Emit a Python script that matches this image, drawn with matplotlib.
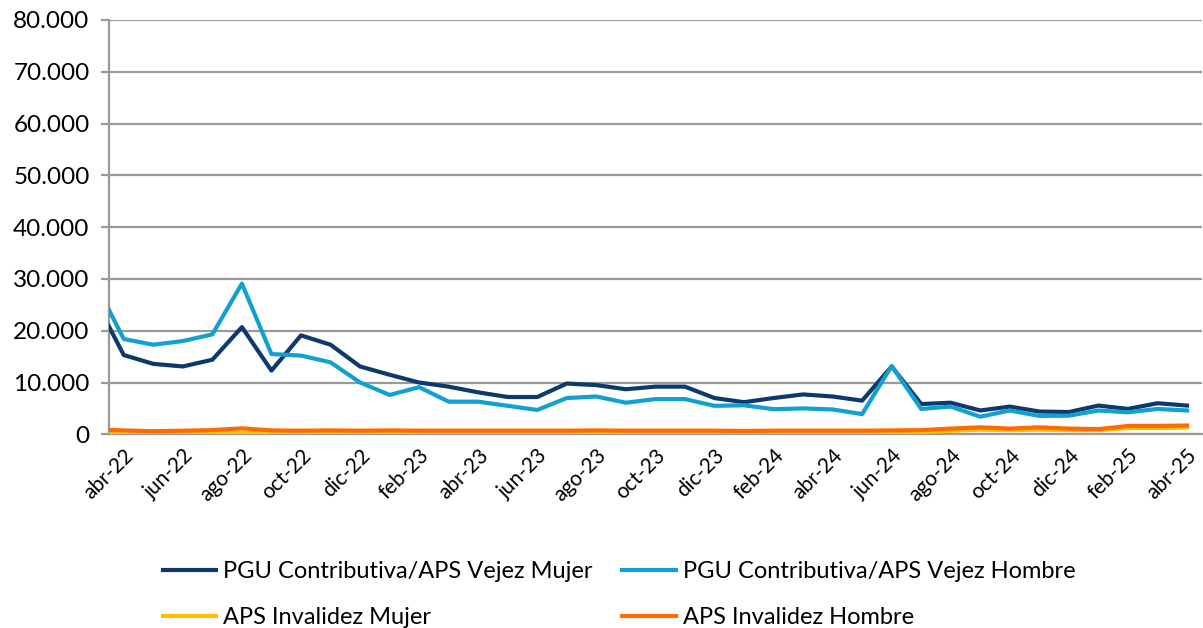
import numpy as np
import matplotlib.pyplot as plt
from matplotlib.ticker import FuncFormatter

# meses: mar-22 (fuera del eje, solo se ve el tramo recortado) hasta abr-25
months = ["mar-22", "abr-22", "may-22", "jun-22", "jul-22", "ago-22", "sep-22", "oct-22",
          "nov-22", "dic-22", "ene-23", "feb-23", "mar-23", "abr-23", "may-23", "jun-23",
          "jul-23", "ago-23", "sep-23", "oct-23", "nov-23", "dic-23", "ene-24", "feb-24",
          "mar-24", "abr-24", "may-24", "jun-24", "jul-24", "ago-24", "sep-24", "oct-24",
          "nov-24", "dic-24", "ene-25", "feb-25", "mar-25", "abr-25"]

vejez_mujer = [26300, 15300, 13600, 13100, 14400, 20700, 12300, 19100, 17300, 13100,
               11500, 10000, 9200, 8100, 7200, 7200, 9800, 9500, 8700, 9200, 9200,
               7000, 6200, 7000, 7700, 7300, 6500, 13100, 5850, 6100, 4600, 5350,
               4400, 4300, 5550, 4900, 6000, 5550]
vejez_hombre = [29600, 18400, 17300, 18000, 19300, 29100, 15500, 15200, 13900, 10000,
                7600, 9100, 6300, 6300, 5500, 4700, 7000, 7300, 6100, 6800, 6800,
                5500, 5600, 4850, 5000, 4800, 3900, 13200, 4900, 5350, 3400, 4600,
                3550, 3600, 4600, 4250, 4900, 4600]
inv_mujer = [350, 250, 200, 200, 250, 350, 250, 250, 250, 250, 250, 250, 250, 250, 250,
             250, 250, 300, 250, 250, 250, 250, 250, 300, 300, 300, 300, 350, 500, 700,
             900, 800, 900, 800, 800, 1200, 1200, 1300]
inv_hombre = [950, 750, 600, 700, 800, 1150, 750, 700, 750, 700, 750, 700, 700, 700,
              700, 700, 700, 750, 700, 700, 700, 700, 650, 700, 700, 700, 700, 750,
              800, 1100, 1350, 1100, 1350, 1100, 1000, 1600, 1600, 1700]

x = np.arange(len(months)) - 1  # abr-22 -> 0

fig = plt.figure(figsize=(12.03, 6.28), dpi=100)
ax = fig.add_axes([109 / 1203, 1 - 434.3 / 628, 1 - 109 / 1203 - 0.001, (434.3 - 20) / 628])

ax.plot(x, vejez_mujer, color="#0d3a6a", lw=3, label="PGU Contributiva/APS Vejez Mujer", zorder=3)
ax.plot(x, vejez_hombre, color="#12a0d0", lw=3, label="PGU Contributiva/APS Vejez Hombre", zorder=3)
ax.plot(x, inv_mujer, color="#ffc000", lw=3, label="APS Invalidez Mujer", zorder=3)
ax.plot(x, inv_hombre, color="#ff6a00", lw=3, label="APS Invalidez Hombre", zorder=3)

ax.set_xlim(-0.5, 36.5)
ax.set_ylim(0, 80000)
ax.set_yticks(np.arange(0, 80001, 10000))
ax.yaxis.set_major_formatter(FuncFormatter(lambda v, p: f"{int(v):,}".replace(",", ".")))
ax.grid(axis="y", color="#9a9a9a", lw=1.6)
ax.set_axisbelow(True)

ticks = list(range(0, 37, 2))
ax.set_xticks(ticks)
ax.set_xticklabels([months[t + 1] for t in ticks], rotation=45, ha="right",
                   rotation_mode="anchor", fontsize=15, family="Lato")
ax.tick_params(axis="x", length=0, pad=8)
ax.tick_params(axis="y", length=6, width=1.6, color="#9a9a9a", labelsize=17.5, pad=8)
for lab in ax.get_yticklabels():
    lab.set_family("Lato")

for s in ["top", "right"]:
    ax.spines[s].set_visible(False)
for s in ["left", "bottom"]:
    ax.spines[s].set_color("#9a9a9a")
    ax.spines[s].set_linewidth(1.6)

h, l = ax.get_legend_handles_labels()
order = [0, 2, 1, 3]
fig.legend([h[i] for i in order], [l[i] for i in order], ncol=2, loc="upper left",
           bbox_to_anchor=(142 / 1203, 1 - 540 / 628), frameon=False,
           prop={"family": "Lato", "size": 17.0}, handlelength=2.25, handletextpad=0.3,
           columnspacing=1.25, labelspacing=1.05)

fig.savefig("out.png", dpi=100)
